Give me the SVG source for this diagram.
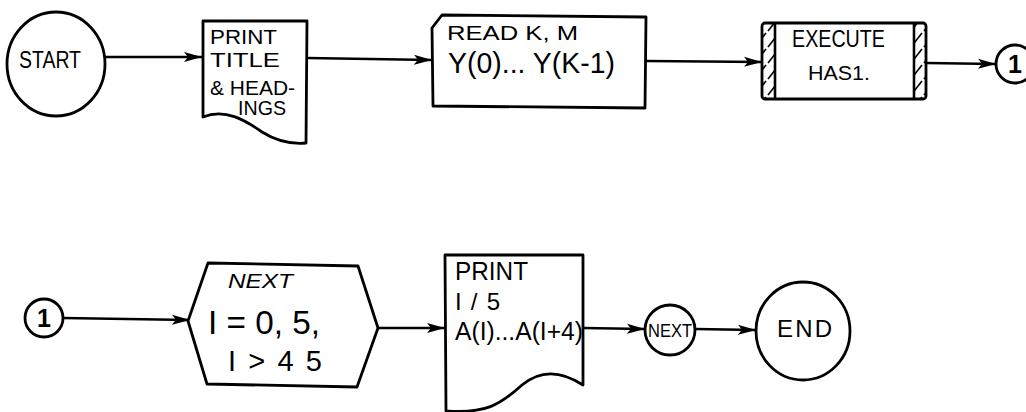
<svg xmlns="http://www.w3.org/2000/svg" width="1026" height="412" viewBox="0 0 1026 412">
<style>
.s{fill:#fff;stroke:#000;stroke-width:2.8;stroke-linejoin:round}
.c{fill:none;stroke:#000;stroke-width:2.6}
.t{font-family:"Liberation Sans",Arial,sans-serif;fill:#000}
</style>
<defs>
<marker id="a" markerUnits="userSpaceOnUse" markerWidth="20" markerHeight="12" refX="18" refY="6" orient="auto">
<path d="M0,1 L18,6 L0,11 L4,6 Z" fill="#000"/>
</marker>
<pattern id="h" patternUnits="userSpaceOnUse" width="13" height="16">
<line x1="1" y1="15" x2="12" y2="1" stroke="#000" stroke-width="1.6"/>
</pattern>
</defs>
<rect width="1026" height="412" fill="#fff"/>
<g id="connectors">
<line class="c" x1="105" y1="57" x2="202" y2="57" marker-end="url(#a)"/>
<line class="c" x1="307" y1="58" x2="432" y2="60" marker-end="url(#a)"/>
<line class="c" x1="646" y1="61" x2="762" y2="62" marker-end="url(#a)"/>
<line class="c" x1="926" y1="63" x2="996" y2="64" marker-end="url(#a)"/>
<line class="c" x1="63" y1="318" x2="190" y2="320" marker-end="url(#a)"/>
<line class="c" x1="378" y1="328" x2="445" y2="328" marker-end="url(#a)"/>
<line class="c" x1="583" y1="328" x2="645" y2="329" marker-end="url(#a)"/>
<line class="c" x1="695" y1="329" x2="756" y2="330" marker-end="url(#a)"/>
</g>
<g id="start">
<ellipse class="s" cx="56" cy="64" rx="49" ry="52"/>
<text class="t" x="19" y="68" font-size="23" textLength="62" lengthAdjust="spacingAndGlyphs">START</text>
</g>
<g id="print-title">
<path class="s" d="M203,21 L307,21 L306,143 C295,144 278,142 262,132 C245,120 225,108 203,117 Z"/>
<text class="t" x="210" y="44" font-size="21" textLength="67" lengthAdjust="spacingAndGlyphs">PRINT</text>
<text class="t" x="210" y="67" font-size="21" textLength="70" lengthAdjust="spacingAndGlyphs">TITLE</text>
<text class="t" x="210" y="95" font-size="20" textLength="85" lengthAdjust="spacingAndGlyphs">&amp; HEAD-</text>
<text class="t" x="238" y="115" font-size="20" textLength="48" lengthAdjust="spacingAndGlyphs">INGS</text>
</g>
<g id="read">
<path class="s" d="M432,28 L442,15 L646,17 L645,108 L433,106 Z"/>
<text class="t" x="447" y="40" font-size="20" textLength="131" lengthAdjust="spacingAndGlyphs">READ  K, M</text>
<text class="t" x="448" y="73" font-size="29" textLength="167" lengthAdjust="spacingAndGlyphs">Y(0)... Y(K-1)</text>
</g>
<g id="execute">
<rect class="s" x="762" y="23" width="164" height="76" rx="3"/>
<rect x="763" y="24" width="12" height="74" fill="url(#h)"/>
<rect x="914" y="24" width="11" height="74" fill="url(#h)"/>
<line class="c" x1="775" y1="24" x2="775" y2="98"/>
<line class="c" x1="914" y1="24" x2="914" y2="98"/>
<text class="t" x="792" y="47" font-size="24" textLength="93" lengthAdjust="spacingAndGlyphs">EXECUTE</text>
<text class="t" x="808" y="80" font-size="20" textLength="62" lengthAdjust="spacingAndGlyphs">HAS1.</text>
</g>
<g id="conn1-out">
<circle class="s" cx="1015" cy="64" r="19"/>
<text class="t" x="1015" y="73" font-size="25" font-weight="bold" text-anchor="middle">1</text>
</g>
<g id="conn1-in">
<circle class="s" cx="44" cy="318" r="19"/>
<text class="t" x="44" y="327" font-size="25" font-weight="bold" text-anchor="middle">1</text>
</g>
<g id="loop">
<path class="s" d="M188,321 L208,263 L358,266 L378,328 L357,387 L207,384 Z"/>
<text class="t" x="228" y="288" font-size="21" font-style="italic" textLength="65" lengthAdjust="spacingAndGlyphs">NEXT</text>
<text class="t" x="208" y="334" font-size="33" textLength="112" lengthAdjust="spacingAndGlyphs">I = 0, 5,</text>
<text class="t" x="228" y="371" font-size="29" textLength="94" lengthAdjust="spacing">I&gt;45</text>
</g>
<g id="print-values">
<path class="s" d="M445,255 L583,255 L583,385 C560,370 540,370 522,385 C500,405 485,414 446,411 Z"/>
<text class="t" x="455" y="280" font-size="26" textLength="73" lengthAdjust="spacingAndGlyphs">PRINT</text>
<text class="t" x="455" y="310" font-size="24" textLength="45" lengthAdjust="spacing">I/5</text>
<text class="t" x="455" y="340" font-size="25" textLength="128" lengthAdjust="spacingAndGlyphs">A(I)...A(I+4)</text>
</g>
<g id="next">
<circle class="s" cx="670" cy="330" r="25"/>
<text class="t" x="648" y="337" font-size="18" textLength="44" lengthAdjust="spacingAndGlyphs">NEXT</text>
</g>
<g id="end">
<ellipse class="s" cx="803" cy="331" rx="47" ry="49"/>
<text class="t" x="777" y="337" font-size="24" textLength="55">END</text>
</g>
</svg>
